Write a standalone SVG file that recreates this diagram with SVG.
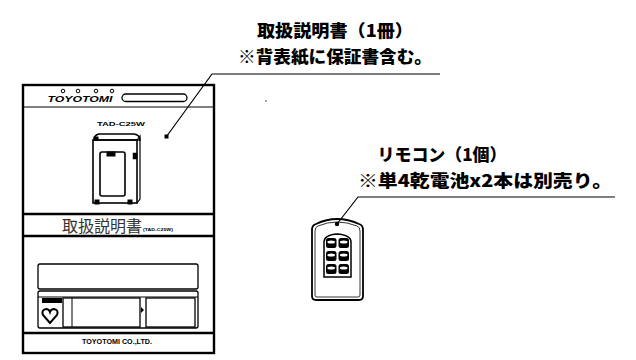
<svg xmlns="http://www.w3.org/2000/svg" width="636" height="360" viewBox="0 0 636 360">
<style>
.lbl{font-family:"Noto Sans CJK JP","Noto Sans",sans-serif;font-weight:900;font-size:17px;fill:#000}
.ln{fill:none;stroke:#000;stroke-width:1.3}
.thick{fill:none;stroke:#000;stroke-width:2.4}
.thin{fill:none;stroke:#000;stroke-width:1}
.small{font-family:"Liberation Sans",sans-serif;font-weight:bold;fill:#000}
</style>
<rect width="636" height="360" fill="#fff"/>
<g id="manual">
  <rect x="23" y="85" width="191" height="268" class="thick"/>
  <line x1="23" y1="107" x2="214" y2="107" class="thin"/>
  <g fill="none" stroke="#000" stroke-width="1">
    <circle cx="63" cy="91" r="1.8"/><circle cx="78" cy="91" r="1.8"/><circle cx="96" cy="91" r="1.8"/><circle cx="112" cy="91" r="1.8"/>
  </g>
  <text x="80" y="102" text-anchor="middle" class="small" font-size="9" font-style="italic" textLength="65" lengthAdjust="spacingAndGlyphs">TOYOTOMI</text>
  <rect x="122" y="94" width="65" height="7.5" rx="3.75" class="ln"/>
  <text x="121" y="125.5" text-anchor="middle" class="small" font-size="6" textLength="48" lengthAdjust="spacingAndGlyphs">TAD-C25W</text>
  <rect x="164.5" y="134.5" width="4" height="4" fill="#000"/>
  <g id="humidifier" fill="none" stroke="#000">
    <path d="M94 140 Q94 135 99 134 L134 134 Q140 135 140 140 Z" stroke-width="1.5"/>
    <rect x="94" y="137" width="4" height="3" fill="#000"/>
    <rect x="93" y="140" width="44" height="63" stroke-width="1.6"/>
    <path d="M137 140 L140 136 L140 199 L137 203" stroke-width="1.2"/>
    <rect x="100" y="152" width="25" height="44" rx="2" stroke-width="1.6"/>
    <rect x="107" y="152" width="8" height="4" fill="#000"/>
    <rect x="133" y="153" width="4" height="6" fill="#000" stroke-width="0.5"/>
    <rect x="95" y="200" width="4" height="4" fill="#000"/>
    <rect x="128" y="200" width="4" height="4" fill="#000"/>
  </g>
  <line x1="23" y1="214" x2="214" y2="214" stroke="#000" stroke-width="2.5"/>
  <text x="102" y="232" text-anchor="middle" font-family="Noto Sans CJK JP,sans-serif" font-size="16" fill="#333" textLength="80" lengthAdjust="spacingAndGlyphs">取扱説明書</text>
  <text x="158" y="231" text-anchor="middle" class="small" font-size="4" textLength="30" lengthAdjust="spacingAndGlyphs">(TAD-C25W)</text>
  <line x1="23" y1="236" x2="214" y2="236" stroke="#000" stroke-width="2.5"/>
  <rect x="38" y="264" width="160" height="25" rx="2" class="ln"/>
  <rect x="38" y="291" width="160" height="37" rx="2" class="ln"/>
  <line x1="38" y1="297" x2="198" y2="297" class="thin"/>
  <rect x="42" y="298" width="20" height="5" fill="#000"/>
  <path d="M50 323 L43 315 Q41 310 46 309 Q49 309 50 312 Q51 309 54 309 Q59 310 57 315 Z" fill="none" stroke="#000" stroke-width="2"/>
  <rect x="63" y="298" width="77" height="29" class="ln"/>
  <line x1="72" y1="298" x2="72" y2="327" class="thin"/>
  <path d="M141 307 L144 310 L141 313 Z" fill="#000"/>
  <rect x="146" y="298" width="49" height="29" class="ln"/>
  <line x1="23" y1="333" x2="214" y2="333" stroke="#000" stroke-width="2.5"/>
  <text x="117" y="344" text-anchor="middle" class="small" font-size="7" textLength="70" lengthAdjust="spacingAndGlyphs">TOYOTOMI CO.,LTD.</text>
</g>
<g id="remote">
  <path d="M312 230 Q312 225 316 224 Q337 214 359 224 Q363 225 363 230 L363 296 Q363 300 359 300 L316 300 Q312 300 312 296 Z" fill="none" stroke="#000" stroke-width="1.8"/>
  <path d="M315 231 Q315 227 318 226 Q337 218 357 226 Q360 227 360 231 L360 295 Q360 297 358 297 L317 297 Q315 297 315 295 Z" fill="none" stroke="#000" stroke-width="0.8"/>
  <circle cx="337" cy="224" r="2.2" fill="#000"/>
  <path d="M324 242 Q324 235 337 234 Q351 235 351 242 L351 277 L324 277 Z" fill="none" stroke="#000" stroke-width="1.5"/>
  <g fill="#000">
    <rect x="326" y="238" width="10.5" height="10" rx="2.5"/><rect x="338.5" y="238" width="10.5" height="10" rx="2.5"/>
    <rect x="326" y="251" width="10.5" height="10" rx="2.5"/><rect x="338.5" y="251" width="10.5" height="10" rx="2.5"/>
    <rect x="326" y="264" width="10.5" height="10" rx="2.5"/><rect x="338.5" y="264" width="10.5" height="10" rx="2.5"/>
  </g>
  <g fill="#fff">
    <ellipse cx="331.2" cy="242" rx="3.8" ry="1.5"/><ellipse cx="343.7" cy="242" rx="3.8" ry="1.5"/>
    <ellipse cx="331.2" cy="255" rx="3.8" ry="1.5"/><ellipse cx="343.7" cy="255" rx="3.8" ry="1.5"/>
    <ellipse cx="331.2" cy="268" rx="3.8" ry="1.5"/><ellipse cx="343.7" cy="268" rx="3.8" ry="1.5"/>
  </g>
</g>
<g id="label-manual">
  <text x="335" y="37" text-anchor="middle" class="lbl" textLength="156" lengthAdjust="spacingAndGlyphs">取扱説明書（1冊）</text>
  <text x="335" y="63" text-anchor="middle" class="lbl" textLength="194" lengthAdjust="spacingAndGlyphs">※背表紙に保証書含む。</text>
</g>
<g id="label-remote">
  <text x="442" y="161" text-anchor="middle" class="lbl" textLength="129" lengthAdjust="spacingAndGlyphs">リモコン（1個）</text>
  <text x="485" y="187" text-anchor="middle" class="lbl" textLength="254" lengthAdjust="spacingAndGlyphs">※単4乾電池x2本は別売り。</text>
</g>
<g id="connectors" fill="none" stroke="#000" stroke-width="1.2">
  <polyline points="166.5,136.5 212,74 440,74"/>
  <polyline points="337,224 358,197 615,197"/>
</g>
<circle cx="266" cy="101" r="0.7" fill="#000"/>
</svg>
